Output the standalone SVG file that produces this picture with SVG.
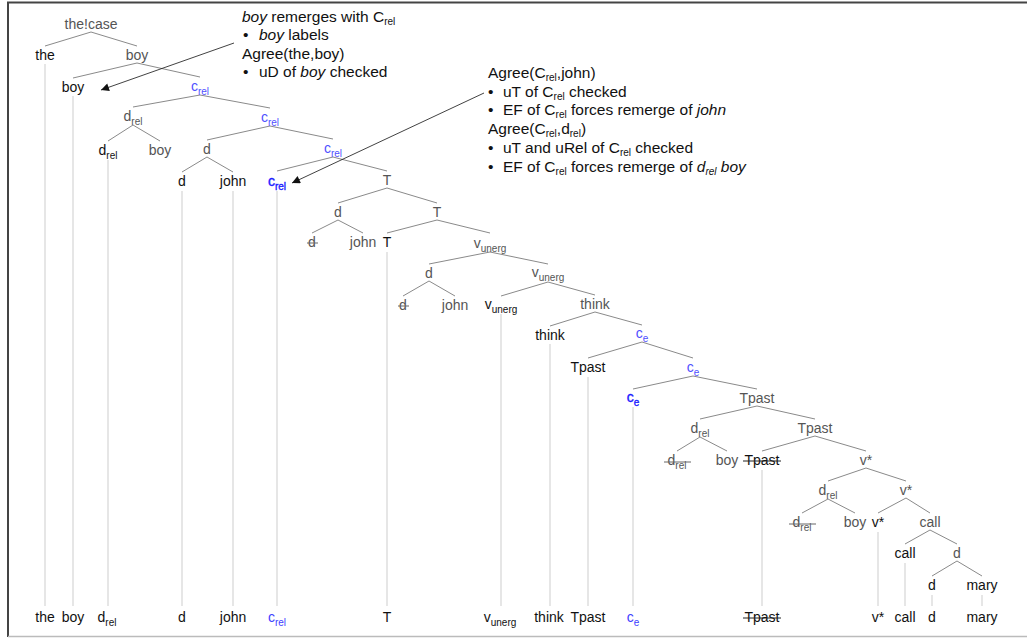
<svg xmlns="http://www.w3.org/2000/svg" width="1027" height="639" viewBox="0 0 1027 639">
<style>
.t{font-family:"Liberation Sans",Arial,sans-serif;font-size:14px;text-anchor:middle}
.g{fill:#555}
.k{fill:#111}
.bl{fill:#5050ff}
.bk{fill:#1a1aff;stroke:#1a1aff;stroke-width:.35}
.bb{fill:#4040ff}
.s{font-size:10px}
.e{stroke:#8a8a8a;stroke-width:1;fill:none}
.v{stroke:#e6e6e6;stroke-width:2;fill:none}
.a{font-family:"Liberation Sans",Arial,sans-serif;font-size:15.5px;fill:#111}
.sa{font-size:10px}
.st{stroke:#666;stroke-width:1}
.stk{stroke:#222;stroke-width:1}
.ar{stroke:#111;stroke-width:0.8;fill:none}
</style>
<defs>
<marker id="ah" viewBox="0 0 10 10" refX="10" refY="5" markerWidth="9" markerHeight="8" markerUnits="userSpaceOnUse" orient="auto">
<path d="M0,0 L10,5 L0,10 z" fill="#111"/>
</marker>
</defs>
<rect width="1027" height="639" fill="#fff"/>
<g id="frame">
<line x1="7" y1="2.5" x2="1027" y2="2.5" stroke="#444" stroke-width="2"/>
<line x1="8" y1="2" x2="8" y2="637" stroke="#444" stroke-width="2"/>
<line x1="8" y1="636.5" x2="1027" y2="636.5" stroke="#bbb" stroke-width="1.5"/>
</g>
<g id="connectors">
<path class="e" d="M91 32L45 46M91 32L137 46M137 63L73 78M137 63L200 77M200 95L133 107M200 95L270 108M133 125L108 141M133 125L160 141M270 126L207 140M270 126L333 139M207 157L182 172M207 157L233 172M333 157L277 171M333 157L387 171M387 188L338 203M387 188L437 203M338 220L312 233M338 220L363 233M437 220L387 233M437 220L490 233M490 252L429 264M490 252L548 264M429 281L403 296M429 281L455 296M548 282L501 296M548 282L595 295M595 312L550 326M595 312L642 325M642 342L588 358M642 342L693 358M693 376L633 389M693 376L757 389M757 406L700 419M757 406L815 419M700 437L677 451M700 437L727 451M815 436L762 451M815 436L866 451M866 468L828 481M866 468L906 481M828 499L802 513M828 499L855 513M906 498L878 513M906 498L930 513M930 530L905 544M930 530L957 544M957 561L932 576M957 561L982 576"/>
<path class="v" d="M45 64V606M73 96V606M108 160V606M182 191V606M233 191V606M277 191V606M387 252V606M501 314V606M550 344V606M588 377V606M633 407V606M762 470V606M878 532V606M905 563V606M932 595V606M982 595V606"/>
<line class="ar" x1="234" y1="43" x2="101" y2="90" marker-end="url(#ah)"/>
<line class="ar" x1="484" y1="93" x2="292" y2="183" marker-end="url(#ah)"/>
</g>
<g id="n-thecase"><text class="t g" x="91" y="29">the!case</text></g>
<g id="n-the"><text class="t k" x="45" y="60">the</text></g>
<g id="n-boy1"><text class="t g" x="137" y="60">boy</text></g>
<g id="n-boy2"><text class="t k" x="73" y="92">boy</text></g>
<g id="n-crel1"><text class="t bl" x="200" y="91">c<tspan class="s" dy="4">rel</tspan></text></g>
<g id="n-drel1"><text class="t g" x="133" y="121">d<tspan class="s" dy="4">rel</tspan></text></g>
<g id="n-crel2"><text class="t bl" x="270" y="122">c<tspan class="s" dy="4">rel</tspan></text></g>
<g id="n-drel2"><text class="t k" x="108" y="155">d<tspan class="s" dy="4">rel</tspan></text></g>
<g id="n-boy3"><text class="t g" x="160" y="155">boy</text></g>
<g id="n-d1"><text class="t g" x="207" y="154">d</text></g>
<g id="n-crel3"><text class="t bl" x="333" y="153">c<tspan class="s" dy="4">rel</tspan></text></g>
<g id="n-d2"><text class="t k" x="182" y="186">d</text></g>
<g id="n-john1"><text class="t k" x="233" y="186">john</text></g>
<g id="n-crel4"><text class="t bk" x="277" y="186">c<tspan class="s" dy="4">rel</tspan></text></g>
<g id="n-T1"><text class="t g" x="387" y="185">T</text></g>
<g id="n-d3"><text class="t g" x="338" y="217">d</text></g>
<g id="n-T2"><text class="t g" x="437" y="217">T</text></g>
<g id="n-d4"><text class="t g" x="312" y="247">d</text><line class="st" x1="307" y1="243" x2="318" y2="243"/></g>
<g id="n-john2"><text class="t g" x="363" y="247">john</text></g>
<g id="n-T3"><text class="t k" x="387" y="247">T</text></g>
<g id="n-vun1"><text class="t g" x="490" y="248">v<tspan class="s" dy="4">unerg</tspan></text></g>
<g id="n-d5"><text class="t g" x="429" y="278">d</text></g>
<g id="n-vun2"><text class="t g" x="548" y="277">v<tspan class="s" dy="4">unerg</tspan></text></g>
<g id="n-d6"><text class="t g" x="403" y="310">d</text><line class="st" x1="398" y1="306" x2="409" y2="306"/></g>
<g id="n-john3"><text class="t g" x="455" y="310">john</text></g>
<g id="n-vun3"><text class="t k" x="501" y="309">v<tspan class="s" dy="4">unerg</tspan></text></g>
<g id="n-think1"><text class="t g" x="595" y="309">think</text></g>
<g id="n-think2"><text class="t k" x="550" y="340">think</text></g>
<g id="n-ce1"><text class="t bl" x="642" y="338">c<tspan class="s" dy="4">e</tspan></text></g>
<g id="n-tpast1"><text class="t k" x="588" y="372">Tpast</text></g>
<g id="n-ce2"><text class="t bl" x="693" y="372">c<tspan class="s" dy="4">e</tspan></text></g>
<g id="n-ce3"><text class="t bk" x="633" y="402">c<tspan class="s" dy="4">e</tspan></text></g>
<g id="n-tpast2"><text class="t g" x="757" y="403">Tpast</text></g>
<g id="n-drel3"><text class="t g" x="700" y="433">d<tspan class="s" dy="4">rel</tspan></text></g>
<g id="n-tpast3"><text class="t g" x="815" y="433">Tpast</text></g>
<g id="n-drel4"><text class="t g" x="677" y="465">d<tspan class="s" dy="4">rel</tspan></text><line class="st" x1="664" y1="462" x2="691" y2="462"/></g>
<g id="n-boy4"><text class="t g" x="727" y="465">boy</text></g>
<g id="n-tpast4"><text class="t k" x="762" y="465">Tpast</text><line class="stk" x1="743" y1="461" x2="781" y2="461"/></g>
<g id="n-vs1"><text class="t g" x="866" y="465">v*</text></g>
<g id="n-drel5"><text class="t g" x="828" y="495">d<tspan class="s" dy="4">rel</tspan></text></g>
<g id="n-vs2"><text class="t g" x="906" y="495">v*</text></g>
<g id="n-drel6"><text class="t g" x="802" y="527">d<tspan class="s" dy="4">rel</tspan></text><line class="st" x1="789" y1="524" x2="816" y2="524"/></g>
<g id="n-boy5"><text class="t g" x="855" y="527">boy</text></g>
<g id="n-vs3"><text class="t k" x="878" y="527">v*</text></g>
<g id="n-call1"><text class="t g" x="930" y="527">call</text></g>
<g id="n-call2"><text class="t k" x="905" y="558">call</text></g>
<g id="n-d7"><text class="t g" x="957" y="558">d</text></g>
<g id="n-d8"><text class="t k" x="932" y="590">d</text></g>
<g id="n-mary1"><text class="t k" x="982" y="590">mary</text></g>
<g id="leaves">
<text class="t k" x="45" y="622">the</text>
<text class="t k" x="73" y="622">boy</text>
<text class="t k" x="107" y="622">d<tspan class="s" dy="4">rel</tspan></text>
<text class="t k" x="182" y="622">d</text>
<text class="t k" x="233" y="622">john</text>
<text class="t bb" x="277" y="622">c<tspan class="s" dy="4">rel</tspan></text>
<text class="t k" x="387" y="622">T</text>
<text class="t k" x="500" y="622">v<tspan class="s" dy="4">unerg</tspan></text>
<text class="t k" x="549" y="622">think</text>
<text class="t k" x="588" y="622">Tpast</text>
<text class="t bb" x="633" y="622">c<tspan class="s" dy="4">e</tspan></text>
<text class="t k" x="762" y="622">Tpast</text><line class="stk" x1="743" y1="618" x2="781" y2="618"/>
<text class="t k" x="878" y="622">v*</text>
<text class="t k" x="905" y="622">call</text>
<text class="t k" x="932" y="622">d</text>
<text class="t k" x="982" y="622">mary</text>
</g>
<g id="note1">
<text class="a" x="242" y="22"><tspan font-style="italic">boy</tspan> remerges with C<tspan class="sa" dy="3">rel</tspan></text>
<text class="a" x="243" y="40">•</text><text class="a" x="259" y="40"><tspan font-style="italic">boy</tspan> labels</text>
<text class="a" x="242" y="58.5">Agree(the,boy)</text>
<text class="a" x="243" y="76.5">•</text><text class="a" x="259" y="76.5">uD of <tspan font-style="italic">boy</tspan> checked</text>
</g>
<g id="note2">
<text class="a" x="488" y="77.5">Agree(C<tspan class="sa" dy="3">rel</tspan><tspan dy="-3">,john)</tspan></text>
<text class="a" x="488" y="96.5">•</text><text class="a" x="503" y="96.5">uT of C<tspan class="sa" dy="3">rel</tspan><tspan dy="-3"> checked</tspan></text>
<text class="a" x="488" y="114.5">•</text><text class="a" x="503" y="114.5">EF of C<tspan class="sa" dy="3">rel</tspan><tspan dy="-3"> forces remerge of </tspan><tspan font-style="italic">john</tspan></text>
<text class="a" x="488" y="133.5">Agree(C<tspan class="sa" dy="3">rel</tspan><tspan dy="-3">,d</tspan><tspan class="sa" dy="3">rel</tspan><tspan dy="-3">)</tspan></text>
<text class="a" x="488" y="152.5">•</text><text class="a" x="503" y="152.5">uT and uRel of C<tspan class="sa" dy="3">rel</tspan><tspan dy="-3"> checked</tspan></text>
<text class="a" x="488" y="171.5">•</text><text class="a" x="503" y="171.5">EF of C<tspan class="sa" dy="3">rel</tspan><tspan dy="-3"> forces remerge of </tspan><tspan font-style="italic">d</tspan><tspan class="sa" font-style="italic" dy="3">rel</tspan><tspan font-style="italic" dy="-3"> boy</tspan></text>
</g>
</svg>
